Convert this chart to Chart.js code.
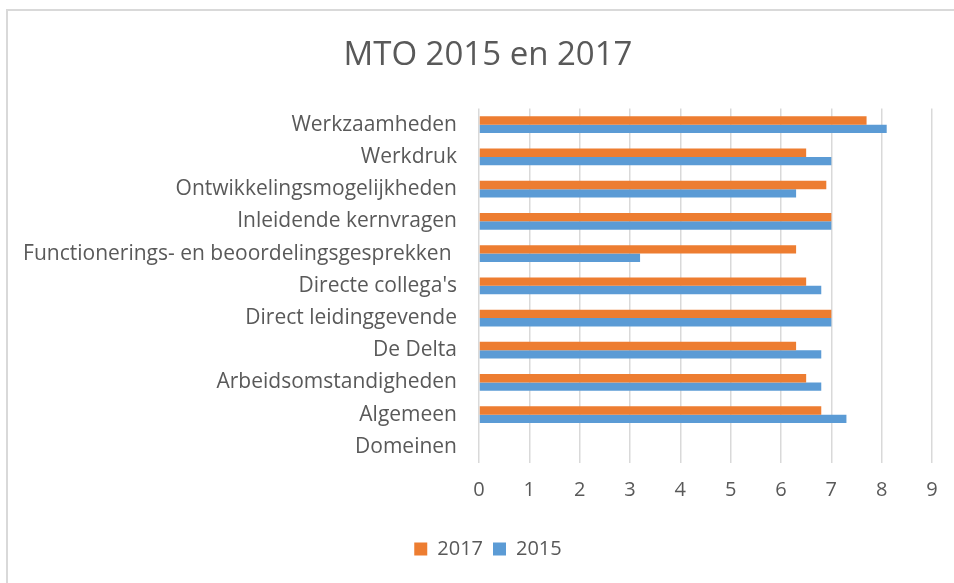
<!DOCTYPE html>
<html>
<head>
<meta charset="utf-8">
<script src="https://cdn.jsdelivr.net/npm/chart.js@4"></script>
<style>
  html, body { margin: 0; padding: 0; background: #fff; overflow: hidden; }
  #frame { position: absolute; left: 6px; top: 9px; width: 1000px; height: 700px;
           border-left: 2px solid #d9d9d9; border-top: 2px solid #d9d9d9; }
  canvas { position: absolute; left: 0; top: 0; }
</style>
</head>
<body>
<div id="frame"></div>
<canvas id="myChart" width="954" height="583"></canvas>
<script>
const categories = [
  "Werkzaamheden",
  "Werkdruk",
  "Ontwikkelingsmogelijkheden",
  "Inleidende kernvragen",
  "Functionerings- en beoordelingsgesprekken ",
  "Directe collega's",
  "Direct leidinggevende",
  "De Delta",
  "Arbeidsomstandigheden",
  "Algemeen",
  "Domeinen",
];
const values2017 = [7.7, 6.5, 6.9, 7.0, 6.3, 6.5, 7.0, 6.3, 6.5, 6.8, null];
const values2015 = [8.1, 7.0, 6.3, 7.0, 3.2, 6.8, 7.0, 6.8, 6.8, 7.3, null];
const xTicks = [0, 1, 2, 3, 4, 5, 6, 7, 8, 9];

const textColor = "#595959";
const fontFamily = "'Open Sans', sans-serif";

const data = {
  labels: categories,
  datasets: [
    { label: "2017", data: values2017, backgroundColor: "#ED7D31" },
    { label: "2015", data: values2015, backgroundColor: "#5B9BD5" },
  ],
};

// title + legend are centred on the full (cropped) chart, not on the visible part
const shiftCenter = {
  id: "shiftCenter",
  afterLayout(chart) {
    chart.titleBlock.left = 44;
    chart.legend.left = 44;
  },
};

const config = {
  type: "bar",
  data: data,
  plugins: [shiftCenter],
  options: {
    responsive: false,
    animation: false,
    indexAxis: "y",
    layout: { padding: { left: 0, right: 22, top: 0, bottom: 14 } },
    datasets: { bar: { barPercentage: 1, categoryPercentage: 0.52 } },
    scales: {
      x: {
        min: 0,
        max: 9,
        afterBuildTicks: (scale) => {
          scale.ticks = xTicks.map((v) => ({ value: v }));
        },
        afterFit: (scale) => { scale.height = 66; },
        grid: { color: "#d9d9d9", lineWidth: 1.5, drawTicks: false },
        border: { display: false },
        ticks: { color: textColor, font: { family: fontFamily, size: 20 }, padding: 15 },
      },
      y: {
        afterFit: (scale) => { scale.width = 479; },
        grid: { display: false },
        border: { display: false },
        ticks: { color: textColor, font: { family: fontFamily, size: 21 }, padding: 14, autoSkip: false },
      },
    },
    plugins: {
      title: {
        display: true,
        text: "MTO 2015 en 2017",
        color: textColor,
        font: { family: fontFamily, size: 33, weight: "normal" },
        padding: { top: 36, bottom: 33 },
      },
      legend: {
        position: "bottom",
        labels: {
          color: textColor,
          font: { family: fontFamily, size: 20 },
          boxWidth: 13,
          boxHeight: 13,
          padding: 10,
        },
      },
      tooltip: { enabled: false },
    },
  },
};

const myChart = new Chart(document.getElementById("myChart"), config);
</script>
</body>
</html>
